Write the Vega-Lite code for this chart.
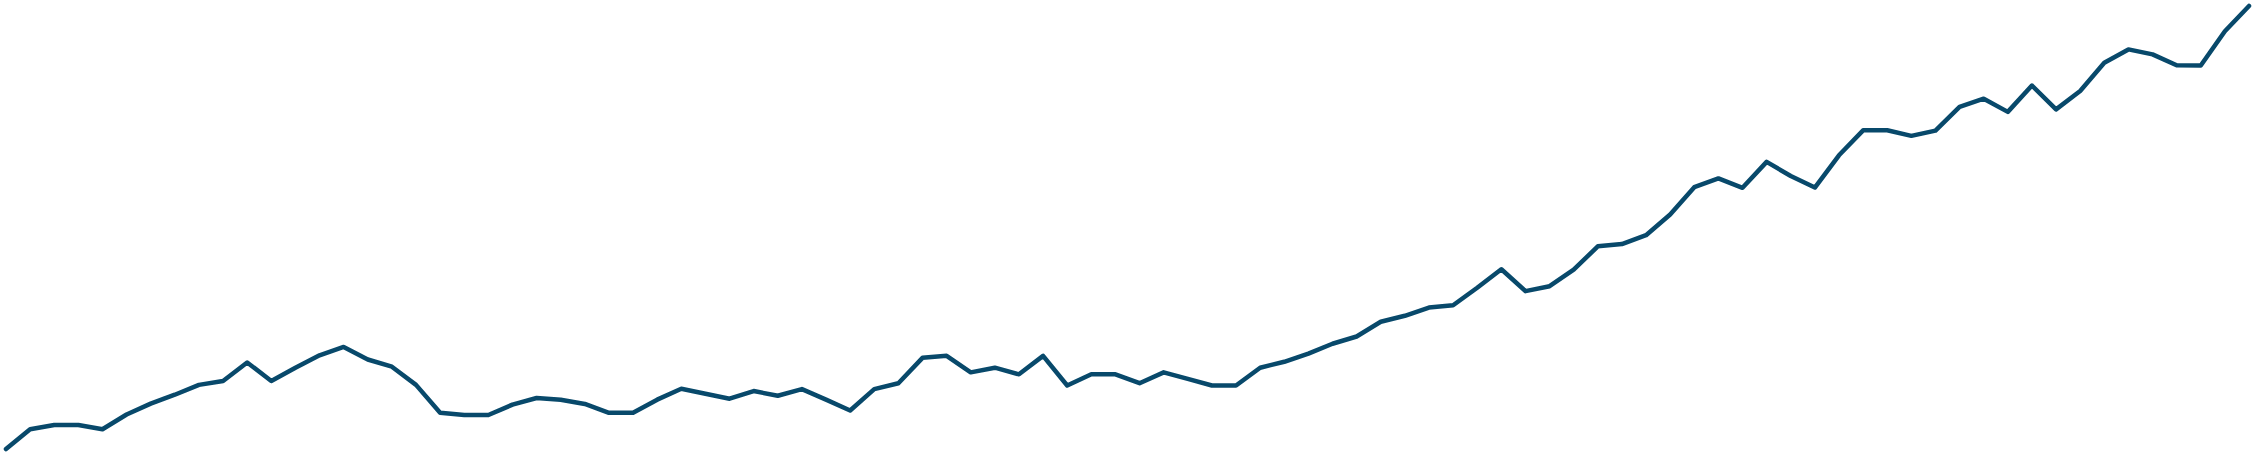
{
  "$schema": "https://vega.github.io/schema/vega-lite/v6.json",
  "width": 2255,
  "height": 455,
  "autosize": {"type": "fit", "contains": "padding"},
  "padding": 3,
  "background": "white",
  "data": {
    "values": [
      {"i": 0, "v": 0.3}, {"i": 1, "v": 20.3}, {"i": 2, "v": 24.7}, {"i": 3, "v": 24.7},
      {"i": 4, "v": 20.3}, {"i": 5, "v": 35.3}, {"i": 6, "v": 46.3}, {"i": 7, "v": 55.3},
      {"i": 8, "v": 65.3}, {"i": 9, "v": 69.3}, {"i": 10, "v": 88}, {"i": 11, "v": 69.3},
      {"i": 12, "v": 82.7}, {"i": 13, "v": 95.3}, {"i": 14, "v": 103.7}, {"i": 15, "v": 91},
      {"i": 16, "v": 83.7}, {"i": 17, "v": 65.3}, {"i": 18, "v": 37}, {"i": 19, "v": 34.7},
      {"i": 20, "v": 34.7}, {"i": 21, "v": 45.3}, {"i": 22, "v": 52}, {"i": 23, "v": 50.3},
      {"i": 24, "v": 46}, {"i": 25, "v": 37}, {"i": 26, "v": 37}, {"i": 27, "v": 50.3},
      {"i": 28, "v": 61.3}, {"i": 29, "v": 56.3}, {"i": 30, "v": 51.3}, {"i": 31, "v": 59},
      {"i": 32, "v": 54.3}, {"i": 33, "v": 61}, {"i": 34, "v": 50.3}, {"i": 35, "v": 39.3},
      {"i": 36, "v": 61}, {"i": 37, "v": 67}, {"i": 38, "v": 92.7}, {"i": 39, "v": 94.7},
      {"i": 40, "v": 78}, {"i": 41, "v": 82.7}, {"i": 42, "v": 76}, {"i": 43, "v": 94.7},
      {"i": 44, "v": 64.7}, {"i": 45, "v": 76}, {"i": 46, "v": 76}, {"i": 47, "v": 67},
      {"i": 48, "v": 78}, {"i": 49, "v": 71.3}, {"i": 50, "v": 64.7}, {"i": 51, "v": 64.7},
      {"i": 52, "v": 82.7}, {"i": 53, "v": 88.7}, {"i": 54, "v": 97}, {"i": 55, "v": 107},
      {"i": 56, "v": 114.3}, {"i": 57, "v": 129.3}, {"i": 58, "v": 135.3}, {"i": 59, "v": 143.7},
      {"i": 60, "v": 146}, {"i": 61, "v": 163.7}, {"i": 62, "v": 182.5}, {"i": 63, "v": 160.3},
      {"i": 64, "v": 165.3}, {"i": 65, "v": 182}, {"i": 66, "v": 205.7}, {"i": 67, "v": 208},
      {"i": 68, "v": 217}, {"i": 69, "v": 238}, {"i": 70, "v": 265.7}, {"i": 71, "v": 274.5},
      {"i": 72, "v": 265}, {"i": 73, "v": 291.3}, {"i": 74, "v": 277}, {"i": 75, "v": 265.3},
      {"i": 76, "v": 298}, {"i": 77, "v": 323.3}, {"i": 78, "v": 323.3}, {"i": 79, "v": 317.7},
      {"i": 80, "v": 323}, {"i": 81, "v": 347}, {"i": 82, "v": 355.3}, {"i": 83, "v": 342},
      {"i": 84, "v": 368.7}, {"i": 85, "v": 344.5}, {"i": 86, "v": 363.2}, {"i": 87, "v": 391.7},
      {"i": 88, "v": 405.3}, {"i": 89, "v": 400.3}, {"i": 90, "v": 389.3}, {"i": 91, "v": 389},
      {"i": 92, "v": 423.7}, {"i": 93, "v": 449.3}
    ]
  },
  "mark": {
    "type": "line",
    "color": "#08496b",
    "strokeWidth": 4.5,
    "strokeCap": "round",
    "strokeJoin": "round"
  },
  "encoding": {
    "x": {
      "field": "i",
      "type": "quantitative",
      "scale": {"nice": false, "zero": false},
      "axis": null
    },
    "y": {
      "field": "v",
      "type": "quantitative",
      "scale": {"nice": false, "zero": false},
      "axis": null
    }
  },
  "config": {
    "view": {"stroke": null}
  }
}
